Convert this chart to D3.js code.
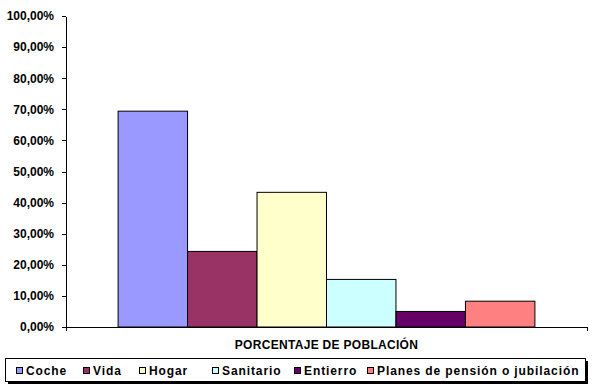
<!DOCTYPE html>
<html>
<head>
<meta charset="utf-8">
<script src="https://cdn.jsdelivr.net/npm/d3@7"></script>
<style>
body { margin: 0; background: #fff; }
text { font-family: "Liberation Sans", Arial, sans-serif; font-weight: bold; fill: #000; }
</style>
</head>
<body>
<div class="container"></div>
<script>
var w = 593;
var h = 388;

var category = ["PORCENTAJE DE POBLACIÓN"];
var series = ["Coche", "Vida", "Hogar", "Sanitario", "Entierro", "Planes de pensión o jubilación"];
var values = [0.694, 0.243, 0.433, 0.153, 0.05, 0.083];
var colors = ["#9999FF", "#993366", "#FFFFCC", "#CCFFFF", "#660066", "#FF8080"];
var yTicks = [0, 0.1, 0.2, 0.3, 0.4, 0.5, 0.6, 0.7, 0.8, 0.9, 1];

var plotLeft = 66, plotRight = 587, plotTop = 16, plotBottom = 327;

var svg = d3.select('.container')
  .append('svg')
  .attr('width', w)
  .attr('height', h);

var yScale = d3.scaleLinear().domain([0, 1]).range([plotBottom, plotTop]);

var xScale = d3.scaleBand()
  .domain(category)
  .range([plotLeft, plotRight])
  .paddingInner(0)
  .paddingOuter(0.125);

var xInner = d3.scaleBand()
  .domain(series)
  .range([0, xScale.bandwidth()]);

var pct = function(v) {
  return d3.format(".2f")(v * 100).replace(".", ",") + "%";
};

// bars
svg.selectAll('rect.bar')
  .data(values)
  .enter()
  .append('rect')
  .attr('class', 'bar')
  .attr('x', (d, i) => xScale(category[0]) + xInner(series[i]))
  .attr('y', d => yScale(d))
  .attr('width', xInner.bandwidth())
  .attr('height', d => yScale(0) - yScale(d))
  .style('fill', (d, i) => colors[i])
  .style('stroke', '#000')
  .style('stroke-width', 1);

var yAxis = d3.axisLeft(yScale)
  .tickValues(yTicks)
  .tickFormat(pct)
  .tickSize(4)
  .tickSizeOuter(0)
  .tickPadding(8);

var yG = svg.append('g')
  .attr('transform', 'translate(' + plotLeft + ',0)')
  .call(yAxis);
yG.selectAll('text').style('font-size', '12px');

var xAxis = d3.axisBottom(xScale)
  .tickSize(0)
  .tickSizeOuter(4)
  .tickPadding(13);

var xG = svg.append('g')
  .attr('transform', 'translate(0,' + plotBottom + ')')
  .call(xAxis);
xG.selectAll('text').style('font-size', '12px').style('letter-spacing', '0.3px');

svg.selectAll('.domain').attr('stroke', '#000').attr('shape-rendering', 'crispEdges');
svg.selectAll('.tick line').attr('stroke', '#000').attr('shape-rendering', 'crispEdges');

// legend
var legend = svg.append('g').attr('id', 'legend');
legend.append('rect')
  .attr('x', 8).attr('y', 361).attr('width', 580).attr('height', 23)
  .style('fill', '#000');
legend.append('rect')
  .attr('x', 5.5).attr('y', 358.5).attr('width', 580).attr('height', 23)
  .style('fill', '#fff').style('stroke', '#000');

var legX = [16, 83, 139, 212, 294, 367];
var items = legend.selectAll('g.item')
  .data(series)
  .enter()
  .append('g')
  .attr('class', 'item')
  .attr('transform', (d, i) => 'translate(' + legX[i] + ',0)');

items.append('rect')
  .attr('x', 0.5).attr('y', 367.5).attr('width', 6).attr('height', 6)
  .style('fill', (d, i) => colors[i])
  .style('stroke', '#000');

items.append('text')
  .attr('x', 10)
  .attr('y', 375)
  .style('font-size', '12px')
  .style('letter-spacing', '0.9px')
  .text(d => d);
</script>
</body>
</html>
